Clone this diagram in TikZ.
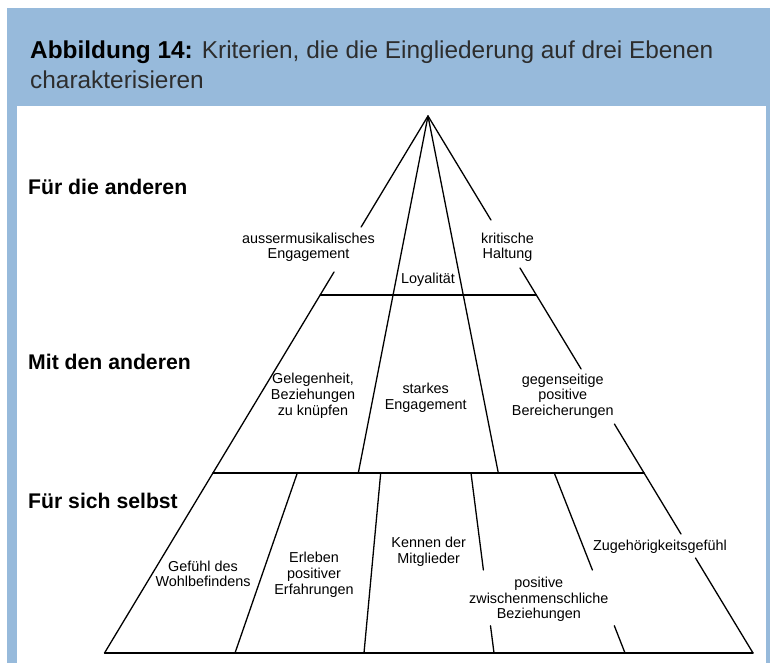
\documentclass[tikz,border=0pt]{standalone}
\usepackage{fontspec}
\setmainfont{Liberation Sans}
\usetikzlibrary{calc}

\definecolor{framebg}{RGB}{151,186,219}
\definecolor{headgray}{RGB}{45,45,45}

\tikzset{
  crit/.style={align=center, inner sep=0pt, anchor=base,
    font=\fontsize{14.4}{15.8}\selectfont},
  level/.style={anchor=base west, inner sep=0pt,
    font=\fontsize{21.2}{25}\selectfont\bfseries},
  edge/.style={line width=1.3pt, line cap=round}
}

\begin{document}
\begin{tikzpicture}[x=1pt,y=-1pt]
  \useasboundingbox (0,0) rectangle (770,663);

  % Frame with the blue heading band
  \fill[white] (0,0) rectangle (770,663);
  \fill[framebg] (7,8) rectangle (770,663);
  \fill[white] (17,106) rectangle (766,663);

  % Heading
  \node[anchor=base west, inner sep=0pt, font=\fontsize{24.4}{30}\selectfont] (title) at (30,59)
    {\textbf{Abbildung 14:} {\color{headgray}Kriterien, die die Eingliederung auf drei Ebenen}};
  \node[anchor=base west, inner sep=0pt, font=\fontsize{24.4}{30}\selectfont] (title2) at (30,89)
    {\color{headgray}charakterisieren};

  % Corners of the pyramid
  \coordinate (apex) at (428,116);
  \coordinate (bl) at (104.5,653);
  \coordinate (br) at (753,653);
  \coordinate (tl) at ($(apex)!0.3333!(bl)$);
  \coordinate (tr) at ($(apex)!0.3333!(br)$);
  \coordinate (ml) at ($(apex)!0.6648!(bl)$);
  \coordinate (mr) at ($(apex)!0.6648!(br)$);

  % Outer edges, left open where the labels sit
  \draw[edge] (apex) -- ($(apex)!0.2067!(bl)$);
  \draw[edge] ($(apex)!0.2905!(bl)$) -- (bl);
  \draw[edge] (apex) -- ($(apex)!0.1937!(br)$);
  \draw[edge] ($(apex)!0.2831!(br)$) -- ($(apex)!0.4711!(br)$);
  \draw[edge] ($(apex)!0.5736!(br)$) -- ($(apex)!0.7784!(br)$);
  \draw[edge] ($(apex)!0.8231!(br)$) -- (br);

  % Floors
  \draw[edge] (tl) -- (tr);
  \draw[edge] (ml) -- (mr);
  \draw[edge] (bl) -- (br);

  % Dividers of the two upper levels
  \draw[edge] (apex) -- (358.3,473);
  \draw[edge] (apex) -- (498.3,473);

  % Dividers of the lowest level
  \draw[edge] (297.3,473) -- (235,653);
  \draw[edge] (380.7,473) -- (364,653);
  \draw[edge] (471,473) -- (483.4,570);
  \draw[edge] (490.5,625.7) -- (494,653);
  \draw[edge] (554.3,473) -- (592.4,570);
  \draw[edge] (614.3,625.7) -- (625,653);

  % Level names
  \node[level] (lvl1) at (28,194) {Für die anderen};
  \node[level] (lvl2) at (28,369.3) {Mit den anderen};
  \node[level] (lvl3) at (28,508.3) {Für sich selbst};

  % Criteria (base = last line)
  \node[crit] (musik) at (308.5,258.8) {aussermusikalisches\\Engagement};
  \node[crit] (kritik) at (507.5,258.8) {kritische\\Haltung};
  \node[crit] (loyal) at (428,283.3) {Loyalität};
  \node[crit] (gelegen) at (313,415.1) {Gelegenheit,\\Beziehungen\\zu knüpfen};
  \node[crit] (stark) at (425.7,409.1) {starkes\\Engagement};
  \node[crit] (gegen) at (562.8,415.6) {gegenseitige\\positive\\Bereicherungen};
  \node[crit] (wohl) at (203,586.8) {Gefühl des\\Wohlbefindens};
  \node[crit] (erleb) at (314,594.3) {Erleben\\positiver\\Erfahrungen};
  \node[crit] (kennen) at (428.7,563.1) {Kennen der\\Mitglieder};
  \node[crit] (zwisch) at (538.8,618.9) {positive\\zwischenmenschliche\\Beziehungen};
  \node[crit] (zugeh) at (660,550.7) {Zugehörigkeitsgefühl};
\end{tikzpicture}
\end{document}
